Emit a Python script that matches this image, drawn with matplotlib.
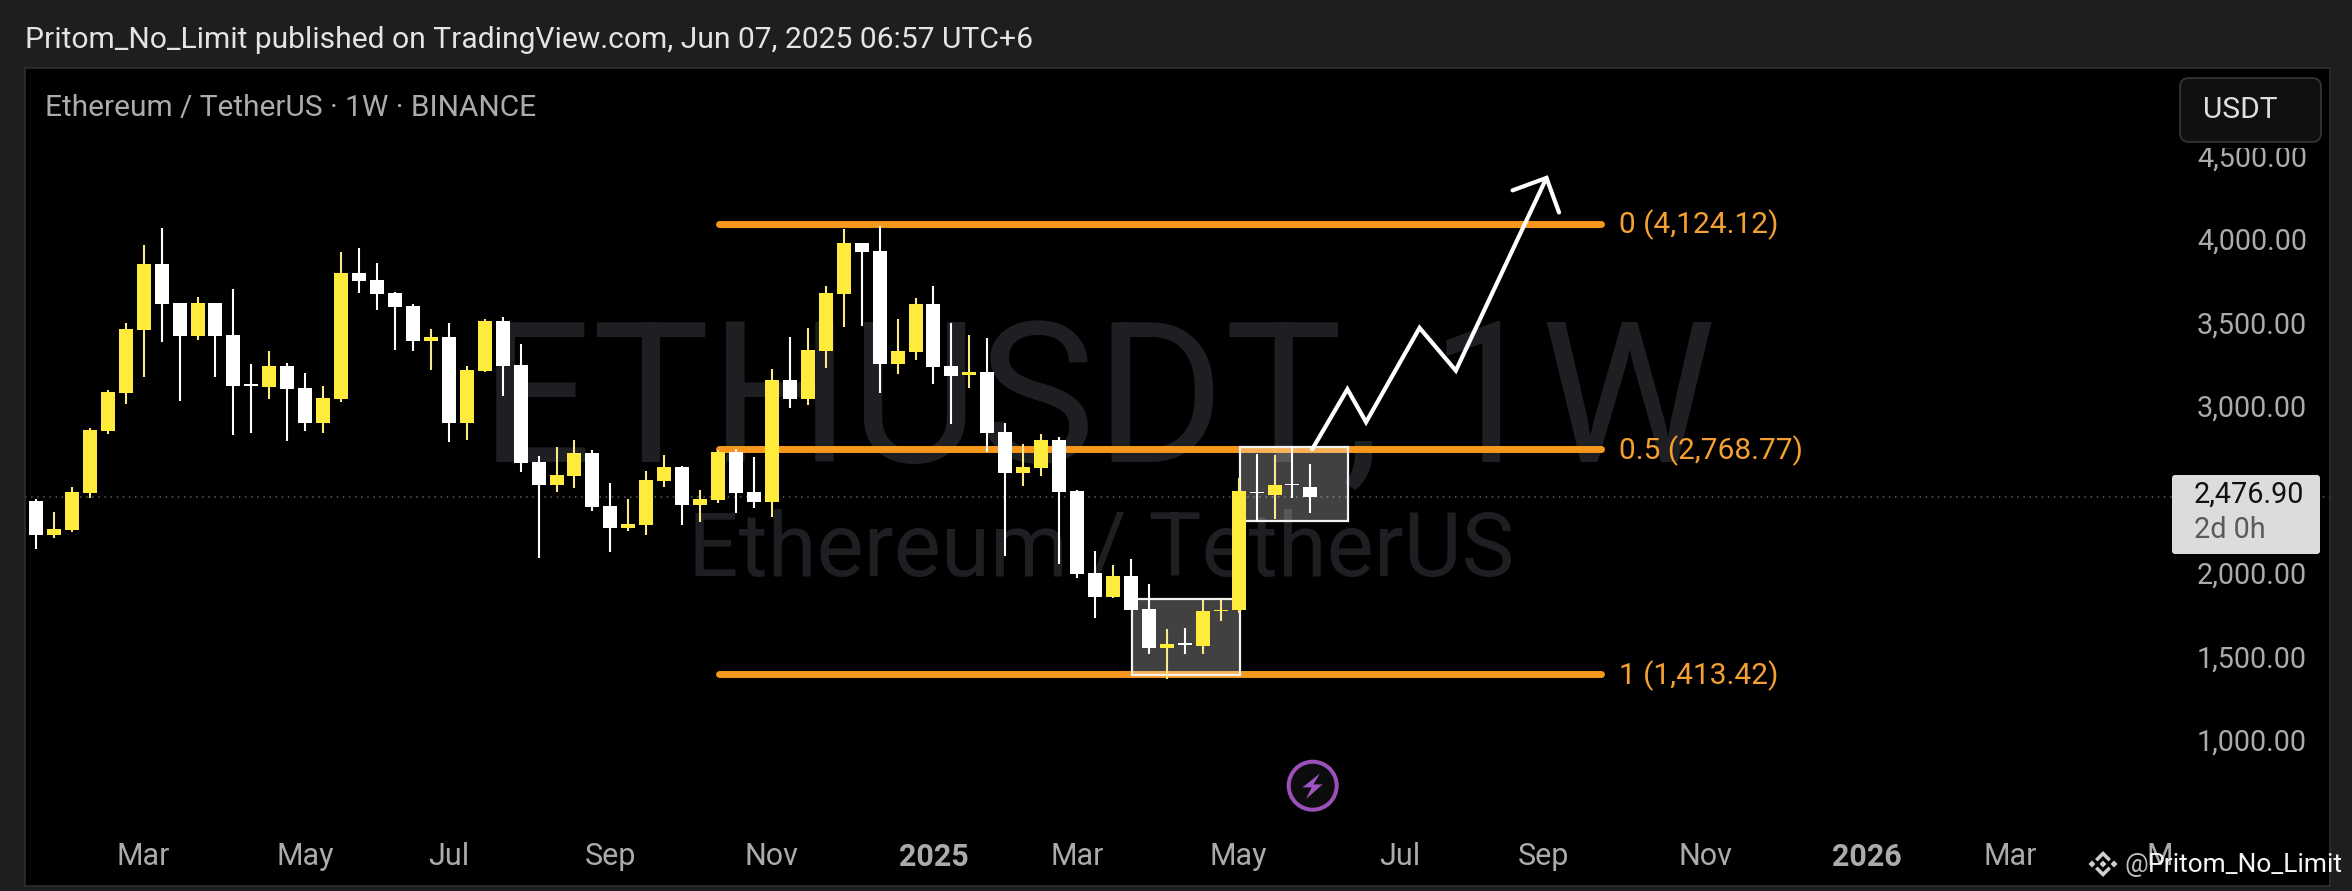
import matplotlib
matplotlib.use("Agg")
import matplotlib.pyplot as plt
from matplotlib.patches import Rectangle, FancyBboxPatch, Circle, Polygon
from matplotlib.transforms import ScaledTranslation, Affine2D

plt.rcParams['font.family'] = ['Roboto', 'DejaVu Sans']

# Weekly candles ETHUSDT
opens = [2455,2251,2281,2504,2877,3107,3484,3881,3646,3448,3646,3454,3159,3141,3267,3135,2925,3069,3827,3785,
         3707,3628,3418,3442,2925,3237,3538,3274,2690,2552,2606,2744,2425,2293,2311,2576,2660,2431,2461,2750,
         2510,2449,3183,3069,3358,3701,4007,3959,3280,3352,3640,3267,3213,3231,2871,2624,2654,2822,2516,2022,
         1878,2004,1806,1571,1599,1583,1794,1803,2511,2492,2559,2539]
highs = [2468,2387,2538,2893,3123,3524,3995,4098,3646,3681,3646,3731,3280,3356,3286,3225,3147,3953,3977,3887,
         3713,3640,3490,3526,3267,3550,3562,3400,2724,2780,2822,2762,2564,2468,2636,2732,2666,2522,2762,2768,
         2720,3249,3442,3496,3749,4092,4007,4110,3550,3677,3749,3526,3454,3436,2925,2798,2858,2840,2522,2155,
         2070,2107,1956,1686,1692,1860,1865,2591,2741,2735,2778,2677]
lows = [2167,2235,2271,2476,2861,3041,3203,3412,3057,3424,3203,2852,2864,3069,2818,2877,2864,3053,3707,3604,
        3364,3358,3243,2810,2822,3231,3087,2630,2113,2510,2534,2395,2149,2275,2251,2540,2311,2329,2443,2383,
        2413,2359,3015,3033,3255,3502,3508,3105,3219,3304,3159,2919,3135,2750,2125,2546,2606,2077,1992,1752,
        1872,1800,1535,1385,1535,1535,1736,1785,2329,2350,2473,2385]
closes = [2251,2287,2508,2883,3111,3488,3881,3640,3448,3646,3448,3147,3149,3267,3129,2925,3075,3827,3779,3701,
          3622,3418,3442,2925,3243,3538,3267,2684,2552,2612,2744,2419,2293,2317,2582,2660,2431,2468,2750,2504,
          2449,3183,3069,3364,3707,4007,3953,3280,3358,3640,3261,3207,3231,2864,2624,2660,2822,2510,2016,1878,
          2004,1800,1571,1595,1591,1794,1803,2516,2501,2552,2550,2476.9]

fib_levels = [4124.12, 2768.77, 1413.42]
fib_labels = ["0 (4,124.12)", "0.5 (2,768.77)", "1 (1,413.42)"]
fib_span = [38.05, 87.2]

boxes = [(61.06, 67.07, 1409, 1869), (67.07, 73.1, 2333, 2780)]

path_x = [71.1, 73.06, 74.1, 77.08, 79.1, 84.15]
path_y = [2767, 3128, 2930, 3497, 3240, 4399]
head_x = [82.26, 84.15, 84.85]
head_y = [4324, 4399, 4191]

y_ticks = [1000, 1500, 2000, 3000, 3500, 4000, 4500]
x_tick_pos = [6, 15, 23, 32, 41, 50, 58, 67, 76, 84, 93, 102, 110, 118.3]
x_tick_lab = ["Mar", "May", "Jul", "Sep", "Nov", "2025", "Mar", "May", "Jul", "Sep", "Nov", "2026", "Mar", "M"]
last_price = 2476.90

W, H = 2352, 891
BG = '#1e1e1e'
fig = plt.figure(figsize=(W / 100, H / 100), dpi=100, facecolor=BG)
PX0, PX1, PY0, PY1 = 25, 2330, 68, 886
ax = fig.add_axes([PX0 / W, 1 - PY1 / H, (PX1 - PX0) / W, (PY1 - PY0) / H], facecolor='black')
ax.set_xlim(-0.61, 127.8)
ax.set_ylim(140, 5060)
for s in ax.spines.values():
    s.set_color('#2e2e2e')
    s.set_linewidth(1.2)

# watermarks
ax.text(0.4655, 0.585, "ETHUSDT, 1W", transform=ax.transAxes, fontsize=142, color='#1e1f23',
        ha='center', va='center', zorder=0, fontweight='normal')
ax.text(0.467, 0.409, "Ethereum / TetherUS", transform=ax.transAxes, fontsize=64, color='#1e1f23',
        ha='center', va='center', zorder=0)

# fib lines
for lv, lab in zip(fib_levels, fib_labels):
    ax.plot(fib_span, [lv, lv], color='#F7981D', lw=5, solid_capstyle='round', zorder=2)
    ax.annotate(lab, (fib_span[1] + 1.0, lv), xytext=(0, -1), textcoords='offset points',
                color='#F5A033', fontsize=21.5, va='center', ha='left', zorder=6)

# highlight boxes
for x0, x1, y0, y1 in boxes:
    ax.add_patch(Rectangle((x0, y0), x1 - x0, y1 - y0, facecolor=(1, 1, 1, 0.26),
                           edgecolor='#f2f2f2', lw=1.6, zorder=3))

# price line
ax.axhline(last_price, color='#5c5c5c', lw=1.1, ls=(0, (1, 3)), zorder=1)

# candles
YEL, WHT = '#FFEB3B', '#FFFFFF'
for i, (o, h, l, c) in enumerate(zip(opens, highs, lows, closes)):
    up = c >= o
    col = YEL if up else WHT
    wick = '#FBE88A' if up else WHT
    ax.plot([i, i], [l, h], color=wick, lw=1.5, solid_capstyle='butt', zorder=4)
    top, bot = max(o, c), min(o, c)
    ax.bar(i, top - bot, bottom=bot, width=0.78, color=col, linewidth=0, zorder=5)

# forecast path
ax.plot(path_x, path_y, color='white', lw=3, solid_joinstyle='miter', solid_capstyle='round', zorder=6)
ax.plot(head_x, head_y, color='white', lw=3, solid_joinstyle='miter', solid_capstyle='round', zorder=6)

# y axis
ax.yaxis.tick_right()
ax.set_yticks(y_ticks)
ax.set_yticklabels([f"{v:,.2f}" for v in y_ticks])
ax.tick_params(axis='y', which='both', direction='in', length=0, pad=-16.5, labelsize=20.7, labelcolor='#ababab')
for t, v in zip(ax.yaxis.get_major_ticks(), y_ticks):
    t.label2.set_ha('right')
    shift_px = 3 + (v - 1000) * 0.00073
    off = ScaledTranslation(0, shift_px / 100, fig.dpi_scale_trans)
    t.label2.set_transform(t.label2.get_transform() + off)
    t.label2.set_zorder(7)

# x axis
ax.set_xticks(x_tick_pos)
ax.set_xticklabels(x_tick_lab)
ax.tick_params(axis='x', direction='in', length=0, pad=-32, labelsize=22, labelcolor='#ababab')
for t, lab in zip(ax.get_xticklabels(), x_tick_lab):
    if lab.startswith('20'):
        t.set_fontweight('bold')

pix = Affine2D().scale(1 / W, 1 / H) + fig.transFigure


def add_px_patch(p):
    p.set_transform(pix)
    fig.add_artist(p)
    return p


# header texts
fig.text(25 / W, 1 - 40 / H, "Pritom_No_Limit published on TradingView.com, Jun 07, 2025 06:57 UTC+6",
         color='#e4e4e4', fontsize=21.6, va='center', ha='left')
fig.text(45 / W, 1 - 108.5 / H, "Ethereum / TetherUS · 1W · BINANCE", color='#ababab', fontsize=21.5,
         va='center', ha='left')

# USDT button (cuts the top tick label)
add_px_patch(Rectangle((2172, H - 148), 156, 79, facecolor='black', edgecolor='none', zorder=8))
add_px_patch(FancyBboxPatch((2180, H - 142), 141, 64, boxstyle='round,pad=0,rounding_size=9',
                            facecolor='#101010', edgecolor='#333333', lw=1.3, zorder=9))
fig.text(2240 / W, 1 - 110 / H, "USDT", color='#dedede', fontsize=21.5, va='center', ha='center', zorder=10)

# last price label
add_px_patch(FancyBboxPatch((2172, H - 554), 148, 79, boxstyle='round,pad=0,rounding_size=3',
                            facecolor='#dcdcdc', edgecolor='none', zorder=8))
fig.text(2194 / W, 1 - 495 / H, f"{last_price:,.2f}", color='#111111', fontsize=20.7, va='center', ha='left', zorder=10)
fig.text(2194 / W, 1 - 530 / H, "2d 0h", color='#5a5a5a', fontsize=20.7, va='center', ha='left', zorder=10)

# lightning icon
cx, cy = 1312.7, H - 785.7
add_px_patch(Circle((cx, cy), 24, facecolor='#0c0c0c', edgecolor='#9B4FB8', lw=2.9, zorder=8))
add_px_patch(Polygon([(cx + 7.3, cy + 12.3), (cx - 10.3, cy - 1.7), (cx - 1, cy - 1.7), (cx - 6.7, cy - 13.3),
                      (cx + 10, cy + 1.3), (cx + 0.7, cy + 1.3)], closed=True, facecolor='#A055C0',
                     edgecolor='none', zorder=9))

# binance watermark logo
ix, iy = 2103, H - 864
LOGO = '#cfcfcf'
for dx, dy in [(0, 0), (-11, 0), (11, 0)]:
    add_px_patch(Polygon([(ix + dx, iy + dy + 3.5), (ix + dx + 3.5, iy + dy), (ix + dx, iy + dy - 3.5),
                          (ix + dx - 3.5, iy + dy)], closed=True, facecolor=LOGO, edgecolor='none', zorder=9))
for sg in (1, -1):
    add_px_patch(Polygon([(ix, iy + sg * 13), (ix + 8, iy + sg * 5), (ix + 5.5, iy + sg * 2.5), (ix, iy + sg * 8),
                          (ix - 5.5, iy + sg * 2.5), (ix - 8, iy + sg * 5)], closed=True, facecolor=LOGO,
                         edgecolor='none', zorder=9))
fig.text(2125 / W, 1 - 865 / H, "@", color='#bdbdbd', fontsize=19, va='center', ha='left', zorder=10)
fig.text(2148 / W, 1 - 865 / H, "Pritom_No_Limit", color='#f5f5f5', fontsize=19, va='center', ha='left', zorder=10)

fig.savefig('out.png', dpi=100, facecolor=BG)
